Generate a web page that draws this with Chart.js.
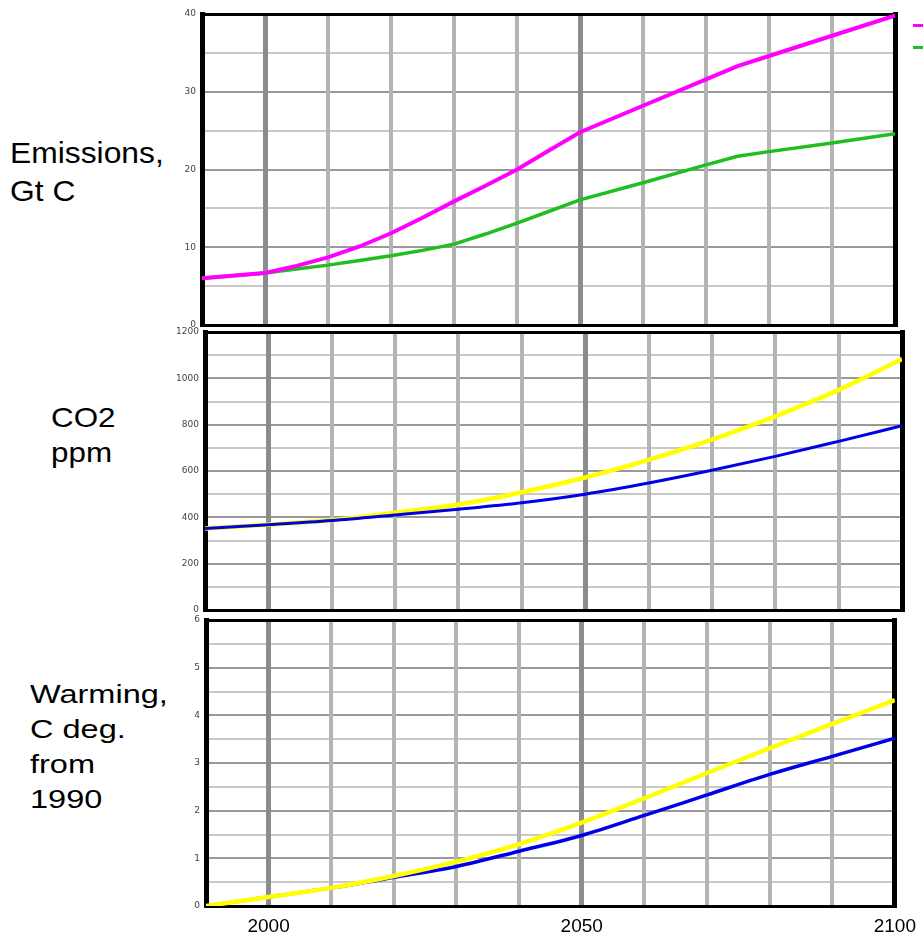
<!DOCTYPE html>
<html>
<head>
<meta charset="utf-8">
<script src="https://cdn.jsdelivr.net/npm/chart.js@4.4.0/dist/chart.umd.min.js"></script>
<style>
    body { margin: 0; background: #fff; width: 923px; height: 934px; position: relative; overflow: hidden; font-family: "Liberation Sans", Arial, sans-serif; }
    .panel { position: absolute; }
    .label { position: absolute; color: #000; white-space: nowrap; transform-origin: left top; }
    .key { position: absolute; height: 3px; width: 12px; }
</style>
</head>
<body>
<div class="label" style="left:10px;top:134px;font-size:30px;line-height:38px;transform:scaleX(1.06);">Emissions,<br>Gt C</div>
<div class="label" style="left:51px;top:400px;font-size:28px;line-height:35px;transform:scaleX(1.12);">CO2<br>ppm</div>
<div class="label" style="left:30px;top:677px;font-size:26px;line-height:35px;transform:scaleX(1.25);">Warming,<br>C deg.<br>from<br>1990</div>

<div class="key" style="left:913px;top:24px;background:#ff00ff;"></div>
<div class="key" style="left:913px;top:46px;background:#1fbf1f;"></div>

<div class="panel" style="left:162px;top:2px;width:739px;height:335px"><canvas id="emisChart"></canvas></div>
<div class="panel" style="left:165px;top:320px;width:743px;height:302px"><canvas id="co2Chart"></canvas></div>
<div class="panel" style="left:166px;top:608px;width:759px;height:326px"><canvas id="warmChart"></canvas></div>

<script>
// emissions, Gt C
const emisYears = [1990, 2000, 2005, 2010, 2015, 2020, 2025, 2030, 2035, 2040, 2045, 2050, 2060, 2070, 2075, 2080, 2090, 2100];
const emisHigh = [6.0, 6.7, 7.6, 8.7, 10.1, 11.8, 13.8, 15.9, 17.9, 20.0, 22.4, 24.8, 28.2, 31.6, 33.3, 34.6, 37.2, 39.8];
const emisLow = [6.0, 6.7, 7.2, 7.7, 8.3, 8.9, 9.6, 10.4, 11.7, 13.1, 14.6, 16.1, 18.3, 20.6, 21.7, 22.3, 23.4, 24.6];

// CO2 ppm and warming
const years = [1990, 2000, 2010, 2020, 2030, 2040, 2050, 2060, 2070, 2080, 2090, 2100];
const co2High = [352, 368, 388, 420, 455, 508, 572, 648, 735, 836, 950, 1083];
const co2Low = [352, 368, 386, 410, 435, 463, 500, 548, 603, 663, 728, 795];
const warmHigh = [0, 0.19, 0.38, 0.63, 0.93, 1.30, 1.75, 2.26, 2.79, 3.31, 3.82, 4.32];
const warmLow = [0, 0.19, 0.38, 0.60, 0.83, 1.15, 1.48, 1.90, 2.33, 2.76, 3.14, 3.52];

const xLabels = [2000, 2050, 2100];

function pts(xs, ys) {
    return xs.map((x, i) => ({x: x, y: ys[i]}));
}

function xGridColor(ctx) {
    const v = ctx.tick.value;
    if (v === 1990 || v === 2100) return "#000";
    if (v === 2000 || v === 2050) return "#8c8c8c";
    return "#b4b4b4";
}
function xGridWidth(ctx) {
    const v = ctx.tick.value;
    if (v === 2000 || v === 2050 || v === 1990 || v === 2100) return 5;
    return 4;
}

function makeChart(id, datasets, yMax, yStep, yMajor, showX, pad) {
    const ctx = document.getElementById(id).getContext("2d");
    return new Chart(ctx, {
        type: "line",
        data: {datasets: datasets},
        options: {
            responsive: true,
            maintainAspectRatio: false,
            animation: false,
            layout: {padding: pad},
            plugins: {legend: {display: false}, tooltip: {enabled: false}},
            elements: {point: {radius: 0}},
            scales: {
                y: {
                    min: 0, max: yMax,
                    afterFit: s => { s.width = 40; },
                    border: {display: true, color: "#000", width: 5},
                    grid: {
                        drawTicks: false,
                        color: c => (c.tick.value === 0 || c.tick.value === yMax) ? "#000" : (c.tick.value % yMajor === 0 ? "#999" : "#c8c8c8"),
                        lineWidth: c => (c.tick.value === 0 || c.tick.value === yMax) ? 3 : 2
                    },
                    ticks: {
                        stepSize: yStep, autoSkip: false, padding: 6,
                        color: "#444",
                        font: {family: "DejaVu Sans", size: 9},
                        callback: v => (v % yMajor === 0 ? String(v) : "")
                    }
                },
                x: {
                    type: "linear", min: 1990, max: 2100,
                    afterFit: s => { s.height = showX ? 28 : 0; },
                    border: {display: true, color: "#000", width: 3},
                    grid: {drawTicks: false, color: xGridColor, lineWidth: xGridWidth},
                    ticks: {
                        display: showX, stepSize: 10, autoSkip: false, maxRotation: 0, padding: 9,
                        color: "#000",
                        font: {family: "'Liberation Sans Narrow', 'Liberation Sans', sans-serif", size: 19},
                        callback: v => (xLabels.includes(v) ? String(v) : "")
                    }
                },
                x2: {
                    type: "linear", position: "top", min: 1990, max: 2100,
                    afterFit: s => { s.height = 0; },
                    grid: {display: false, drawTicks: false},
                    ticks: {display: false},
                    border: {display: true, color: "#000", width: 3}
                },
                y2: {
                    position: "right", min: 0, max: yMax,
                    afterFit: s => { s.width = 0; },
                    grid: {display: false, drawTicks: false},
                    ticks: {display: false},
                    border: {display: true, color: "#000", width: 5}
                }
            }
        }
    });
}

makeChart("emisChart", [
    {data: pts(emisYears, emisHigh), borderColor: "#ff00ff", borderWidth: 4, tension: 0},
    {data: pts(emisYears, emisLow), borderColor: "#1fbf1f", borderWidth: 3.5, tension: 0}
], 40, 5, 10, false, {top: 12, right: 6, bottom: 12, left: 0});

makeChart("co2Chart", [
    {data: pts(years, co2Low), borderColor: "#0000e6", borderWidth: 3, cubicInterpolationMode: "monotone"},
    {data: pts(years, co2High), borderColor: "#ffff00", borderWidth: 4.5, cubicInterpolationMode: "monotone"}
], 1200, 100, 200, false, {top: 12, right: 6, bottom: 12, left: 0});

makeChart("warmChart", [
    {data: pts(years, warmHigh), borderColor: "#ffff00", borderWidth: 4.5, cubicInterpolationMode: "monotone"},
    {data: pts(years, warmLow), borderColor: "#0000e6", borderWidth: 3.5, cubicInterpolationMode: "monotone"}
], 6, 0.5, 1, true, {top: 12, right: 20, bottom: 0, left: 0});
</script>
</body>
</html>
